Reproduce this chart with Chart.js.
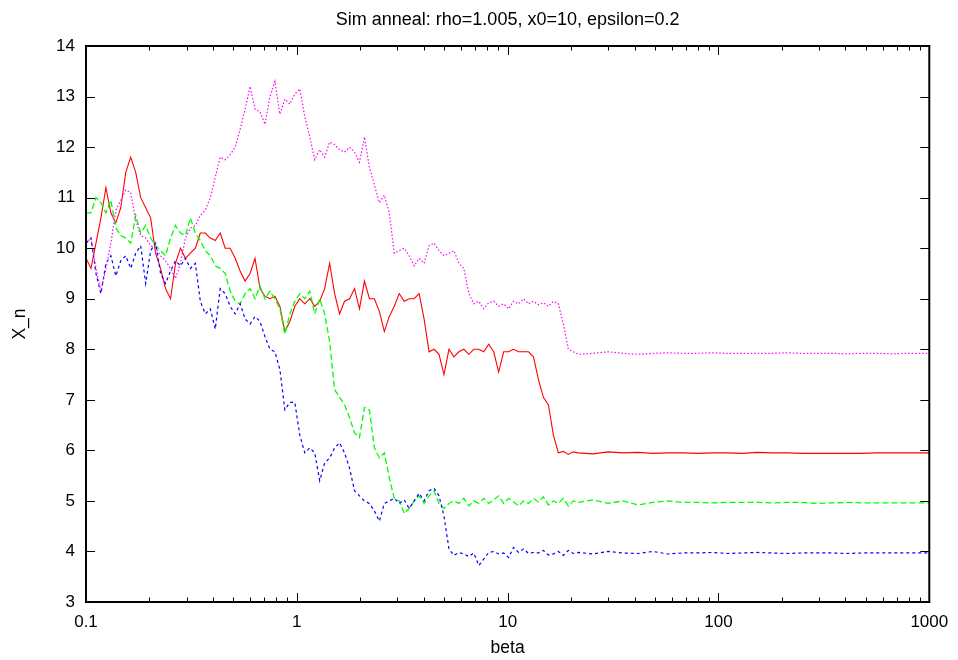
<!DOCTYPE html>
<html>
<head>
<meta charset="utf-8">
<script src="https://cdn.jsdelivr.net/npm/chart.js@4/dist/chart.umd.min.js"></script>
<style>
  html, body { margin: 0; padding: 0; background: #ffffff; }
  #wrap { width: 958px; height: 660px; }
</style>
</head>
<body>
<div id="wrap"><canvas id="c" width="958" height="660"></canvas></div>
<script>
// ---------------- data ----------------
const titleText = 'Sim anneal: rho=1.005, x0=10, epsilon=0.2';
const xLabel = 'beta';
const yLabel = 'X_n';

const betaValues = [
  0.1, 0.1056, 0.1115, 0.1177, 0.1243, 0.1312, 0.1385, 0.1462, 0.1544, 0.1630,
  0.1721, 0.1817, 0.1919, 0.2026, 0.2139, 0.2258, 0.2384, 0.2517, 0.2658, 0.2806,
  0.2962, 0.3128, 0.3302, 0.3486, 0.3681, 0.3886, 0.4103, 0.4332, 0.4574, 0.4829,
  0.5099, 0.5383, 0.5684, 0.6001, 0.6335, 0.6689, 0.7062, 0.7456, 0.7872, 0.8312,
  0.8775, 0.9265, 0.9785, 1.033, 1.091, 1.152, 1.216, 1.284, 1.355, 1.431,
  1.511, 1.595, 1.684, 1.778, 1.878, 1.982, 2.093, 2.210, 2.333, 2.463,
  2.601, 2.746, 2.899, 3.061, 3.232, 3.412, 3.602, 3.803, 4.015, 4.239,
  4.476, 4.726, 4.989, 5.268, 5.562, 5.872, 6.200, 6.546, 6.911, 7.297,
  7.704, 8.134, 8.587, 9.066, 9.572, 10.11, 10.67, 11.27, 11.90, 12.56,
  13.26, 14.00, 14.78, 15.61, 16.48, 17.40, 18.37, 19.40, 20.48, 21.63,
  25.45, 29.95, 35.26, 41.50, 48.84, 57.46, 67.64, 79.61, 93.69, 110.3,
  129.8, 152.8, 179.8, 211.6, 249.0, 293.1, 345.0, 406.0, 477.9, 562.3,
  662.0, 779.1, 1000
];

const runRed = [
  9.8, 9.6, 10.1, 10.6, 11.2, 10.7, 10.5, 10.8, 11.5, 11.8,
  11.5, 11.0, 10.8, 10.6, 9.9, 9.6, 9.2, 9.0, 9.7, 10.0,
  9.8, 9.9, 10.0, 10.3, 10.3, 10.2, 10.15, 10.3, 10.0, 10.0,
  9.8, 9.55, 9.35, 9.5, 9.8, 9.2, 9.05, 9.0, 9.05, 8.85,
  8.35, 8.55, 8.85, 9.0, 8.9, 9.0, 8.85, 8.95, 9.2, 9.7,
  9.1, 8.7, 8.95, 9.0, 9.2, 8.8, 9.35, 9.0, 9.0, 8.75,
  8.35, 8.65, 8.85, 9.1, 8.95, 9.0, 9.0, 9.1, 8.6, 7.95,
  8.0, 7.9, 7.5, 8.0, 7.85, 7.95, 8.0, 7.9, 8.0, 8.0,
  7.95, 8.1, 7.95, 7.55, 7.95, 7.95, 8.0, 7.95, 7.95, 7.95,
  7.85, 7.4, 7.05, 6.9, 6.3, 5.95, 5.98, 5.92, 5.97, 5.95,
  5.93, 5.97, 5.95, 5.96, 5.94, 5.95, 5.95, 5.94, 5.95, 5.95,
  5.94, 5.96, 5.95, 5.95, 5.94, 5.94, 5.94, 5.94, 5.94, 5.95,
  5.95, 5.95, 5.95
];

const runGreen = [
  10.7, 10.7, 11.0, 10.9, 10.7, 10.95, 10.4, 10.25, 10.2, 10.1,
  10.65, 10.3, 10.45, 10.2, 10.05, 9.95, 9.85, 10.2, 10.45, 10.3,
  10.25, 10.6, 10.3, 10.15, 9.95, 9.85, 9.65, 9.6, 9.5, 9.15,
  8.95, 8.9, 9.1, 9.2, 9.0, 9.25, 9.0, 9.15, 9.0, 8.8,
  8.3, 8.7, 8.95, 9.1, 9.0, 9.15, 8.7, 9.0, 8.7, 8.15,
  7.2, 7.05, 6.9, 6.65, 6.35, 6.25, 6.85, 6.8, 6.05, 5.85,
  5.95, 5.45, 5.05, 5.0, 4.75, 4.85, 5.0, 5.1, 4.95, 5.1,
  5.2, 4.95, 4.85, 4.95, 5.0, 4.95, 5.05, 4.9, 5.0, 4.95,
  5.05, 4.95, 5.02, 5.1, 4.95, 5.05, 4.98, 4.9, 5.0, 4.95,
  5.05, 4.98, 5.08, 4.92, 5.0, 4.95, 5.05, 4.9, 5.0, 4.97,
  5.02, 4.95, 5.0, 4.92, 4.97, 5.0, 4.97, 4.97, 4.96, 4.97,
  4.97, 4.97, 4.96, 4.97, 4.97, 4.95, 4.96, 4.97, 4.96, 4.96,
  4.96, 4.96, 4.96
];

const runBlue = [
  10.1, 10.2, 9.5, 9.1, 9.7, 9.85, 9.45, 9.75, 9.85, 9.6,
  9.9, 10.05, 9.3, 9.95, 10.1, 9.5, 9.3, 9.55, 9.75, 9.65,
  9.8, 9.6, 9.7, 8.95, 8.7, 8.8, 8.4, 9.2, 9.1, 8.85,
  8.7, 8.9, 8.6, 8.5, 8.65, 8.55, 8.25, 8.0, 7.95, 7.6,
  6.8, 6.95, 6.95, 6.3, 5.95, 6.05, 5.95, 5.4, 5.75, 5.85,
  6.05, 6.15, 5.95, 5.65, 5.2, 5.1, 5.0, 4.95, 4.8, 4.6,
  4.95, 5.0, 5.05, 4.95, 5.02, 4.85, 5.0, 5.15, 5.0, 5.2,
  5.25, 5.1, 4.7, 4.05, 3.92, 3.98, 3.95, 3.9, 3.97, 3.72,
  3.85, 3.98, 4.0, 3.95, 3.97, 3.88, 4.08, 3.98, 4.05, 3.96,
  3.98, 3.97, 4.02, 3.93, 3.95, 4.0, 3.92, 4.02, 3.96, 3.98,
  3.95, 4.0, 3.97, 3.96, 4.0, 3.95, 3.97, 3.97, 3.98, 3.96,
  3.97, 3.98, 3.97, 3.96, 3.97, 3.97, 3.97, 3.96, 3.97, 3.97,
  3.97, 3.97, 3.97
];

const runMagenta = [
  10.1, 10.2, 9.6, 9.15, 9.6, 10.1, 10.75, 10.95, 11.15, 11.1,
  10.55, 10.25, 10.2, 10.05, 10.0, 9.85, 9.75, 9.6, 9.4, 9.7,
  10.2, 10.4, 10.45, 10.65, 10.75, 11.0, 11.4, 11.8, 11.75, 11.85,
  12.0, 12.35, 12.75, 13.2, 12.75, 12.7, 12.45, 13.0, 13.3, 12.65,
  12.95, 12.85, 13.05, 13.15, 12.6, 12.2, 11.75, 11.95, 11.8, 12.1,
  12.05, 11.95, 11.9, 12.0, 11.9, 11.7, 12.2, 11.6, 11.25, 10.9,
  11.05, 10.7, 9.9, 9.95, 10.0, 9.85, 9.65, 9.8, 9.7, 10.05,
  10.1, 9.95, 9.85, 9.9, 9.95, 9.7, 9.6, 9.1, 8.9, 8.95,
  8.8, 8.92, 8.95, 8.85, 8.9, 8.8, 8.95, 8.9, 9.0, 8.9,
  8.95, 8.88, 8.92, 8.85, 8.95, 8.9, 8.5, 8.0, 7.95, 7.9,
  7.92, 7.95, 7.92, 7.9, 7.92, 7.93, 7.92, 7.92, 7.93, 7.92,
  7.92, 7.92, 7.92, 7.93, 7.92, 7.92, 7.92, 7.91, 7.92, 7.92,
  7.91, 7.92, 7.92
];

const xTickValues = [0.1, 1, 10, 100, 1000];
const xTickLabels = ['0.1', '1', '10', '100', '1000'];
const yTickValues = [3, 4, 5, 6, 7, 8, 9, 10, 11, 12, 13, 14];
const yTickLabels = ['3', '4', '5', '6', '7', '8', '9', '10', '11', '12', '13', '14'];
const xMinorMultipliers = [2, 3, 4, 5, 6, 7, 8, 9];

// ---------------- chart ----------------
const FONT = "'Liberation Sans', Arial, Helvetica, sans-serif";
Chart.defaults.font.family = FONT;
Chart.defaults.font.size = 17;
Chart.defaults.color = '#000000';

const pairs = (ys) => betaValues.map((b, i) => ({ x: b, y: ys[i] }));

const framePlugin = {
  id: 'gnuplotFrame',
  afterDatasetsDraw(chart) {
    const { ctx, chartArea: a, scales } = chart;
    const xs = scales.x, ys = scales.y;
    const major = 9, minor = 4.5;
    ctx.save();
    ctx.strokeStyle = '#000000';
    ctx.lineWidth = 1;
    ctx.beginPath();
    xTickValues.forEach(v => {
      const p = Math.round(xs.getPixelForValue(v)) + 0.5;
      ctx.moveTo(p, a.bottom); ctx.lineTo(p, a.bottom - major);
      ctx.moveTo(p, a.top); ctx.lineTo(p, a.top + major);
    });
    xTickValues.slice(0, -1).forEach(d => {
      xMinorMultipliers.forEach(m => {
        const p = Math.round(xs.getPixelForValue(d * m)) + 0.5;
        ctx.moveTo(p, a.bottom); ctx.lineTo(p, a.bottom - minor);
        ctx.moveTo(p, a.top); ctx.lineTo(p, a.top + minor);
      });
    });
    yTickValues.forEach(v => {
      const p = Math.round(ys.getPixelForValue(v)) + 0.5;
      ctx.moveTo(a.left, p); ctx.lineTo(a.left + major, p);
      ctx.moveTo(a.right, p); ctx.lineTo(a.right - major, p);
    });
    ctx.stroke();
    ctx.lineWidth = 2;
    ctx.strokeRect(a.left, a.top, a.right - a.left, a.bottom - a.top);
    ctx.restore();
  }
};

new Chart(document.getElementById('c'), {
  type: 'line',
  data: {
    datasets: [
      { label: 'run 1', data: pairs(runRed), borderColor: '#ff0000', borderWidth: 1.1, pointRadius: 0, tension: 0, fill: false, order: 4 },
      { label: 'run 2', data: pairs(runGreen), borderColor: '#00ff00', borderWidth: 1.3, borderDash: [6, 3], pointRadius: 0, tension: 0, fill: false, order: 3 },
      { label: 'run 3', data: pairs(runBlue), borderColor: '#0000ff', borderWidth: 1.2, borderDash: [3, 3], pointRadius: 0, tension: 0, fill: false, order: 2 },
      { label: 'run 4', data: pairs(runMagenta), borderColor: '#ff00ff', borderWidth: 1.2, borderDash: [1.5, 2], pointRadius: 0, tension: 0, fill: false, order: 1 }
    ]
  },
  options: {
    responsive: false,
    animation: false,
    devicePixelRatio: 1,
    events: [],
    layout: { padding: { left: 0, right: 25, top: 0, bottom: 0 } },
    plugins: {
      legend: { display: false },
      tooltip: { enabled: false },
      title: {
        display: true,
        text: titleText,
        fullSize: false,
        color: '#000000',
        font: { size: 18, weight: 'normal', family: FONT },
        padding: { top: 9.2, bottom: 15.2 }
      }
    },
    scales: {
      x: {
        type: 'logarithmic',
        position: 'bottom',
        min: 0.1,
        max: 1000,
        grid: { display: false, drawTicks: false },
        border: { display: false },
        afterBuildTicks: (s) => { s.ticks = xTickValues.map(v => ({ value: v })); },
        ticks: {
          autoSkip: false,
          maxRotation: 0,
          padding: 9.8,
          color: '#000000',
          font: { size: 17 },
          callback: (v, i) => xTickLabels[i]
        },
        title: { display: true, text: xLabel, color: '#000000', font: { size: 17.5 }, padding: { top: 0, bottom: 1.5 } },
        afterFit: (s) => { s.height = 58; }
      },
      y: {
        type: 'linear',
        min: 3,
        max: 14,
        grid: { display: false, drawTicks: false },
        border: { display: false },
        afterBuildTicks: (s) => { s.ticks = yTickValues.map(v => ({ value: v })); },
        ticks: {
          padding: 11,
          color: '#000000',
          font: { size: 17 },
          callback: (v, i) => yTickLabels[i]
        },
        title: { display: true, text: yLabel, color: '#000000', font: { size: 17.5 }, padding: { top: 10, bottom: 0 } },
        afterFit: (s) => { s.width = 86; }
      }
    }
  },
  plugins: [framePlugin]
});
</script>
</body>
</html>
